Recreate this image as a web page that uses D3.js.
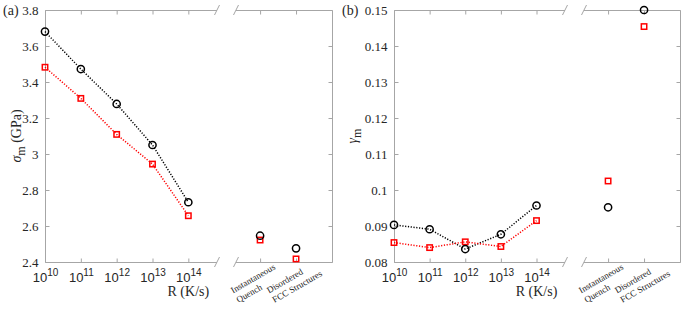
<!DOCTYPE html>
<html>
<head>
<meta charset="utf-8">
<script src="https://cdn.jsdelivr.net/npm/d3@7"></script>
<style>
  body { margin: 0; background: #fff; }
  svg { display: block; font-family: "Liberation Serif", "Times New Roman", serif; }
</style>
</head>
<body>
<div class="chart"></div>
<script>
var width = 686,
    height = 309

// data
var rates = [1e10, 1e11, 1e12, 1e13, 1e14]
var rateExp = ["10", "11", "12", "13", "14"]
var categories = [["Instantaneous", "Quench"], ["Disordered", "FCC Structures"]]

var sigmaCircle = [3.680, 3.472, 3.278, 3.050, 2.732]
var sigmaSquare = [3.482, 3.309, 3.109, 2.944, 2.657]
var sigmaCircleCat = [2.546, 2.476]
var sigmaSquareCat = [2.522, 2.417]
var sigmaTicks = [2.4, 2.6, 2.8, 3, 3.2, 3.4, 3.6, 3.8]
var sigmaTickLabels = ["2.4", "2.6", "2.8", "3", "3.2", "3.4", "3.6", "3.8"]

var gammaCircle = [0.0903, 0.0891, 0.0836, 0.0877, 0.0957]
var gammaSquare = [0.0854, 0.0840, 0.0856, 0.0843, 0.0915]
var gammaCircleCat = [0.0952, 0.1500]
var gammaSquareCat = [0.1025, 0.1454]
var gammaTicks = [0.08, 0.09, 0.10, 0.11, 0.12, 0.13, 0.14, 0.15]
var gammaTickLabels = ["0.08", "0.09", "0.1", "0.11", "0.12", "0.13", "0.14", "0.15"]

var axisColor = "#a6a6a6",
    textColor = "#262626"

var svg = d3.select(".chart")
  .append("svg")
  .attr("width", width)
  .attr("height", height)

drawPanel({
  tag: "(a)", tagX: 3,
  left: 45, mainRight: 217, catLeft: 236, catRight: 332,
  domain: [2.4, 3.8], ticks: sigmaTicks, tickLabels: sigmaTickLabels,
  circle: sigmaCircle, square: sigmaSquare,
  circleCat: sigmaCircleCat, squareCat: sigmaSquareCat,
  ylabel: "σ", ylabelSub: "m", ylabelRest: " (GPa)", ylabelX: 21
})

drawPanel({
  tag: "(b)", tagX: 342,
  left: 394, mainRight: 565, catLeft: 584, catRight: 680,
  domain: [0.08, 0.15], ticks: gammaTicks, tickLabels: gammaTickLabels,
  circle: gammaCircle, square: gammaSquare,
  circleCat: gammaCircleCat, squareCat: gammaSquareCat,
  ylabel: "γ", ylabelSub: "m", ylabelRest: "", ylabelX: 357
})

function drawPanel(p) {
  var top = 10, bottom = 262

  var x = d3.scaleLog()
    .domain([1e10, Math.pow(10, 14.8)])
    .range([p.left, p.mainRight])
  var xc = d3.scaleLinear()
    .domain([0.33, 3])
    .range([p.catLeft, p.catRight])
  var y = d3.scaleLinear()
    .domain(p.domain)
    .range([bottom, top])

  var g = svg.append("g")

  // axis frame pieces
  var frame = g.append("g")
    .attr("stroke", axisColor)
    .attr("stroke-width", 1)
    .attr("fill", "none")
  frame.append("path").attr("d", "M" + p.mainRight + "," + (top + 0.5) + "H" + (p.left + 0.5) + "V" + (bottom + 0.5) + "H" + p.mainRight)
  frame.append("path").attr("d", "M" + p.catLeft + "," + (top + 0.5) + "H" + (p.catRight + 0.5) + "V" + (bottom + 0.5) + "H" + p.catLeft)

  // break marks
  ;[p.mainRight, p.catLeft].forEach(function(bx) {
    [top, bottom].forEach(function(by) {
      frame.append("line")
        .attr("x1", bx - 2.5).attr("y1", by + 5)
        .attr("x2", bx + 2.5).attr("y2", by - 5)
    })
  })

  // left axis
  var yAxis = g.append("g")
    .attr("transform", "translate(" + (p.left + 0.5) + ",0)")
    .call(d3.axisLeft(y).tickValues(p.ticks).tickSize(-4).tickPadding(7)
      .tickFormat(function(d, i) { return p.tickLabels[i] }))
  // right axis of the category block (no labels)
  var yAxisR = g.append("g")
    .attr("transform", "translate(" + (p.catRight + 0.5) + ",0)")
    .call(d3.axisRight(y).tickValues(p.ticks).tickSize(-4).tickFormat(""))

  // bottom & top axes
  var xAxis = g.append("g")
    .attr("transform", "translate(0," + (bottom + 0.5) + ")")
    .call(d3.axisBottom(x).tickValues(rates).tickSize(-4).tickPadding(7).tickFormat(""))
  var xAxisTop = g.append("g")
    .attr("transform", "translate(0," + (top + 0.5) + ")")
    .call(d3.axisTop(x).tickValues(rates).tickSize(-4).tickFormat(""))
  var xcAxis = g.append("g")
    .attr("transform", "translate(0," + (bottom + 0.5) + ")")
    .call(d3.axisBottom(xc).tickValues([1, 2]).tickSize(-4).tickFormat(""))
  var xcAxisTop = g.append("g")
    .attr("transform", "translate(0," + (top + 0.5) + ")")
    .call(d3.axisTop(xc).tickValues([1, 2]).tickSize(-4).tickFormat(""))

  ;[yAxis, yAxisR, xAxis, xAxisTop, xcAxis, xcAxisTop].forEach(function(a) {
    a.select(".domain").remove()
    a.selectAll("line").attr("stroke", axisColor)
    a.selectAll("text")
      .attr("fill", textColor)
      .style("font-family", "Liberation Serif, serif")
      .style("font-size", "13px")
  })
  yAxis.selectAll("text").attr("dy", "0.35em")

  // power-of-ten labels
  xAxis.selectAll(".tick").each(function(d, i) {
    var t = d3.select(this).append("text")
      .attr("y", 19)
      .attr("text-anchor", "middle")
      .attr("fill", textColor)
      .style("font-size", "13px")
    t.append("tspan").text("10")
    t.append("tspan").attr("dy", -6).style("font-size", "10px").text(rateExp[i])
  })

  // category labels
  categories.forEach(function(c, i) {
    var lg = g.append("g")
      .attr("transform", "translate(" + (xc(i + 1) - 27) + "," + (bottom + 31.5) + ") rotate(-30)")
    c.forEach(function(line, j) {
      lg.append("text")
        .attr("x", 0)
        .attr("y", j * 11)
        .attr("fill", textColor)
        .style("font-size", "9px")
        .text(line)
    })
  })

  // x label
  g.append("text")
    .attr("x", x(1e14))
    .attr("y", 296)
    .attr("text-anchor", "middle")
    .attr("fill", textColor)
    .style("font-size", "14px")
    .text("R (K/s)")

  // y label
  var yl = g.append("text")
    .attr("transform", "translate(" + p.ylabelX + "," + ((top + bottom) / 2) + ") rotate(-90)")
    .attr("text-anchor", "middle")
    .attr("fill", textColor)
    .style("font-size", "14px")
  yl.append("tspan").style("font-style", "italic").text(p.ylabel)
  yl.append("tspan").attr("dy", 4).style("font-size", "12px").text(p.ylabelSub)
  if (p.ylabelRest) yl.append("tspan").attr("dy", -4).text(p.ylabelRest)

  // panel tag
  g.append("text")
    .attr("x", p.tagX)
    .attr("y", 15)
    .attr("fill", textColor)
    .style("font-size", "14px")
    .text(p.tag)

  // lines
  var line = d3.line()
    .x(function(d, i) { return x(rates[i]) })
    .y(function(d) { return y(d) })

  g.append("path")
    .datum(p.circle)
    .attr("d", line)
    .attr("fill", "none")
    .attr("stroke", "#000")
    .attr("stroke-width", 1.5)
    .attr("stroke-dasharray", "1.2,1.6")
  g.append("path")
    .datum(p.square)
    .attr("d", line)
    .attr("fill", "none")
    .attr("stroke", "#ff0000")
    .attr("stroke-width", 1.5)
    .attr("stroke-dasharray", "1.2,1.6")

  // markers
  function circles(data, xf) {
    g.append("g").selectAll("circle")
      .data(data)
      .enter().append("circle")
      .attr("cx", function(d, i) { return xf(i) })
      .attr("cy", function(d) { return y(d) })
      .attr("r", 3.6)
      .attr("fill", "none")
      .attr("stroke", "#000")
      .attr("stroke-width", 1.5)
  }
  function squares(data, xf) {
    g.append("g").selectAll("rect")
      .data(data)
      .enter().append("rect")
      .attr("x", function(d, i) { return xf(i) - 2.7 })
      .attr("y", function(d) { return y(d) - 2.7 })
      .attr("width", 5.4)
      .attr("height", 5.4)
      .attr("fill", "none")
      .attr("stroke", "#ff0000")
      .attr("stroke-width", 1.5)
  }
  squares(p.square, function(i) { return x(rates[i]) })
  circles(p.circle, function(i) { return x(rates[i]) })
  squares(p.squareCat, function(i) { return xc(i + 1) })
  circles(p.circleCat, function(i) { return xc(i + 1) })
}
</script>
</body>
</html>
